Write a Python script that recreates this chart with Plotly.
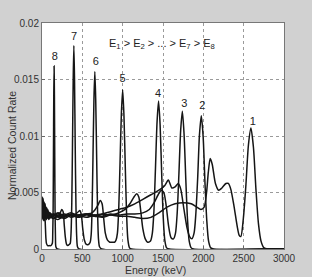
import plotly.graph_objects as go

# ---------------- data ----------------
energy_8 = [0, 5, 10, 15, 20, 25, 30, 36, 42, 48, 55, 70, 90, 110, 128, 133, 138, 142, 146, 150, 154, 158, 162, 167, 172, 190, 3000]
rate_8 = [0.0045, 0.0030, 0.0042, 0.0027, 0.0040, 0.0031, 0.0036, 0.0030, 0.0020, 0.0010, 0.0005, 0.0003, 0.0003, 0.0003, 0.0005, 0.0013, 0.0036, 0.0083, 0.0136, 0.0162, 0.0136, 0.0081, 0.0034, 0.0010, 0.0002, 0, 0]

energy_7 = [0, 6, 12, 18, 24, 30, 38, 46, 54, 62, 72, 84, 98, 112, 130, 160, 190, 225, 245, 262, 275, 290, 305, 320, 338, 350, 360, 369, 378, 387, 395, 403, 412, 421, 430, 440, 460, 3000]
rate_7 = [0.0038, 0.0046, 0.0029, 0.0041, 0.0026, 0.0038, 0.0028, 0.0036, 0.0027, 0.0034, 0.0028, 0.0033, 0.0029, 0.0031, 0.0029, 0.0030, 0.0031, 0.0032, 0.0035, 0.0033, 0.0022, 0.0010, 0.0004, 0.0003, 0.0004, 0.0005, 0.0014, 0.0040, 0.0092, 0.0151, 0.0180, 0.0151, 0.0090, 0.0038, 0.0011, 0.0002, 0, 0]

energy_6 = [0, 6, 12, 18, 24, 30, 38, 46, 54, 62, 72, 84, 98, 112, 140, 180, 230, 280, 330, 380, 420, 450, 470, 488, 505, 525, 550, 575, 597, 610, 621, 632, 644, 655, 666, 678, 689, 700, 713, 740, 3000]
rate_6 = [0.0041, 0.0027, 0.0044, 0.0030, 0.0039, 0.0025, 0.0035, 0.0029, 0.0037, 0.0027, 0.0032, 0.0026, 0.0031, 0.0028, 0.0027, 0.0029, 0.0031, 0.0028, 0.0030, 0.0029, 0.0031, 0.0033, 0.0034, 0.0030, 0.0018, 0.0008, 0.0004, 0.0004, 0.0006, 0.0013, 0.0036, 0.0081, 0.0133, 0.0157, 0.0132, 0.0079, 0.0033, 0.0009, 0.0002, 0, 0]

energy_5 = [0, 6, 12, 18, 24, 30, 38, 46, 54, 62, 72, 84, 98, 112, 140, 190, 250, 320, 400, 480, 560, 620, 660, 695, 722, 745, 765, 785, 810, 840, 870, 900, 918, 935, 951, 967, 984, 1000, 1016, 1033, 1049, 1065, 1085, 1110, 3000]
rate_5 = [0.0035, 0.0043, 0.0031, 0.0040, 0.0027, 0.0037, 0.0030, 0.0034, 0.0026, 0.0033, 0.0029, 0.0031, 0.0027, 0.0030, 0.0029, 0.0026, 0.0028, 0.0030, 0.0029, 0.0030, 0.0031, 0.0032, 0.0035, 0.0039, 0.0043, 0.0040, 0.0027, 0.0014, 0.0008, 0.0006, 0.0006, 0.0006, 0.0008, 0.0014, 0.0035, 0.0075, 0.0120, 0.0141, 0.0118, 0.0071, 0.0030, 0.0008, 0.0001, 0, 0]

energy_4 = [0, 6, 12, 18, 24, 30, 38, 46, 54, 62, 72, 84, 98, 112, 140, 200, 280, 360, 450, 550, 650, 750, 850, 950, 1030, 1090, 1140, 1175, 1200, 1225, 1250, 1280, 1310, 1345, 1368, 1387, 1406, 1426, 1445, 1464, 1484, 1503, 1522, 1545, 1580, 3000]
rate_4 = [0.0040, 0.0029, 0.0045, 0.0033, 0.0037, 0.0028, 0.0039, 0.0031, 0.0035, 0.0029, 0.0033, 0.0030, 0.0032, 0.0029, 0.0031, 0.0028, 0.0030, 0.0032, 0.0029, 0.0031, 0.0030, 0.0031, 0.0030, 0.0032, 0.0035, 0.0040, 0.0046, 0.0049, 0.0046, 0.0033, 0.0018, 0.0009, 0.0006, 0.0007, 0.0014, 0.0033, 0.0070, 0.0112, 0.0131, 0.0110, 0.0066, 0.0028, 0.0008, 0.0001, 0, 0]

energy_3 = [0, 6, 12, 18, 24, 30, 38, 46, 54, 62, 72, 84, 98, 112, 140, 200, 280, 360, 450, 550, 650, 750, 850, 950, 1050, 1150, 1250, 1330, 1390, 1440, 1480, 1510, 1540, 1570, 1600, 1630, 1655, 1676, 1697, 1719, 1740, 1761, 1783, 1804, 1825, 1850, 1880, 3000]
rate_3 = [0.0033, 0.0044, 0.0026, 0.0038, 0.0030, 0.0041, 0.0027, 0.0035, 0.0030, 0.0036, 0.0027, 0.0032, 0.0028, 0.0031, 0.0030, 0.0032, 0.0029, 0.0031, 0.0030, 0.0028, 0.0030, 0.0029, 0.0031, 0.0030, 0.0031, 0.0031, 0.0032, 0.0035, 0.0041, 0.0048, 0.0052, 0.0050, 0.0038, 0.0020, 0.0010, 0.0009, 0.0014, 0.0032, 0.0066, 0.0105, 0.0122, 0.0102, 0.0061, 0.0026, 0.0007, 0.0001, 0, 0]

energy_2 = [0, 6, 12, 18, 24, 30, 38, 46, 54, 62, 72, 84, 98, 112, 140, 200, 280, 360, 450, 550, 650, 750, 850, 950, 1050, 1150, 1250, 1350, 1450, 1520, 1566, 1610, 1650, 1690, 1720, 1760, 1800, 1830, 1858, 1885, 1907, 1930, 1952, 1975, 1998, 2020, 2043, 2065, 2092, 2130, 3000]
rate_2 = [0.0043, 0.0031, 0.0039, 0.0025, 0.0042, 0.0029, 0.0036, 0.0027, 0.0034, 0.0030, 0.0035, 0.0028, 0.0031, 0.0030, 0.0027, 0.0029, 0.0031, 0.0028, 0.0030, 0.0031, 0.0029, 0.0031, 0.0033, 0.0035, 0.0037, 0.0040, 0.0044, 0.0048, 0.0052, 0.0056, 0.0061, 0.0054, 0.0055, 0.0058, 0.0053, 0.0035, 0.0018, 0.0011, 0.0009, 0.0014, 0.0031, 0.0063, 0.0101, 0.0118, 0.0099, 0.0059, 0.0025, 0.0007, 0.0001, 0, 0]

energy_1 = [0, 6, 12, 18, 24, 30, 38, 46, 54, 62, 72, 84, 98, 112, 140, 200, 280, 360, 450, 550, 650, 750, 850, 950, 1050, 1150, 1250, 1350, 1450, 1550, 1650, 1750, 1850, 1920, 1970, 2010, 2040, 2062, 2085, 2110, 2150, 2190, 2230, 2280, 2310, 2340, 2380, 2420, 2445, 2465, 2496, 2528, 2559, 2590, 2621, 2652, 2684, 2715, 2752, 2800, 3000]
rate_1 = [0.0039, 0.0028, 0.0043, 0.0032, 0.0036, 0.0026, 0.0040, 0.0030, 0.0033, 0.0028, 0.0034, 0.0029, 0.0032, 0.0028, 0.0031, 0.0029, 0.0027, 0.0030, 0.0028, 0.0030, 0.0029, 0.0028, 0.0030, 0.0029, 0.0029, 0.0028, 0.0027, 0.0028, 0.0032, 0.0037, 0.0040, 0.0041, 0.0040, 0.0037, 0.0035, 0.0037, 0.0050, 0.0068, 0.0080, 0.0075, 0.0058, 0.0052, 0.0054, 0.0058, 0.0058, 0.0053, 0.0038, 0.0020, 0.0012, 0.0011, 0.0027, 0.0057, 0.0092, 0.0107, 0.0090, 0.0053, 0.0022, 0.0007, 0.0001, 0, 0]

peak_labels = ["8", "7", "6", "5", "4", "3", "2", "1"]
peak_label_x = [160, 397, 666, 1000, 1438, 1764, 1987, 2612]
peak_label_y = [0.0170, 0.01873, 0.01652, 0.01504, 0.01369, 0.0128, 0.0126, 0.01118]

x_ticks = [0, 500, 1000, 1500, 2000, 2500, 3000]
y_ticks = [0, 0.005, 0.01, 0.015, 0.02]
y_tick_labels = ["0", "0.005", "0.01", "0.015", "0.02"]

x_title = "Energy (keV)"
y_title = "Normalized Count Rate"
order_text = "E<sub>1</sub> > E<sub>2</sub> > ... > E<sub>7</sub> > E<sub>8</sub>"

# ---------------- figure ----------------
spectra = [(energy_1, rate_1), (energy_2, rate_2), (energy_3, rate_3), (energy_4, rate_4),
           (energy_5, rate_5), (energy_6, rate_6), (energy_7, rate_7), (energy_8, rate_8)]

FONT = "Liberation Sans, Arial, sans-serif"
fig = go.Figure()
for ex, ry in spectra:
    fig.add_trace(go.Scatter(x=ex, y=ry, mode="lines",
                             line=dict(color="#151515", width=1.5, shape="spline", smoothing=0.7),
                             showlegend=False, hoverinfo="skip"))

fig.add_trace(go.Scatter(x=peak_label_x, y=peak_label_y, mode="text", text=peak_labels,
                         textposition="middle center",
                         textfont=dict(size=11, color="#222", family=FONT),
                         showlegend=False, hoverinfo="skip"))

fig.add_annotation(x=1484, y=0.0181, text=order_text, showarrow=False, xanchor="center", yanchor="middle",
                   font=dict(size=11, color="#222", family=FONT))

fig.add_annotation(xref="paper", yref="paper", x=-0.124, y=0.46, text=y_title, textangle=-90,
                   showarrow=False, xanchor="center", yanchor="middle",
                   font=dict(size=10.5, color="#333", family=FONT))
fig.add_annotation(xref="paper", yref="paper", x=0.469, y=-0.092, text=x_title,
                   showarrow=False, xanchor="center", yanchor="middle",
                   font=dict(size=10.5, color="#333", family=FONT))

axis_common = dict(ticks="inside", ticklen=3, tickcolor="#666", showline=True, linecolor="#777",
                   linewidth=1, mirror=True, showgrid=True, gridcolor="#9a9a9a", griddash="dot",
                   gridwidth=1, zeroline=False, tickfont=dict(size=10, color="#333", family=FONT))

fig.update_xaxes(range=[0, 3000], tickmode="array", tickvals=x_ticks,
                 ticktext=[str(v) for v in x_ticks], **axis_common)
fig.update_yaxes(range=[0, 0.02], tickmode="array", tickvals=y_ticks, ticktext=y_tick_labels,
                 **axis_common)

fig.update_layout(width=312, height=277, autosize=False,
                  margin=dict(l=42, r=28, t=23, b=28, pad=0),
                  paper_bgcolor="#d1d1d1", plot_bgcolor="white")

fig.write_html("out.html", config={"displayModeBar": False})
